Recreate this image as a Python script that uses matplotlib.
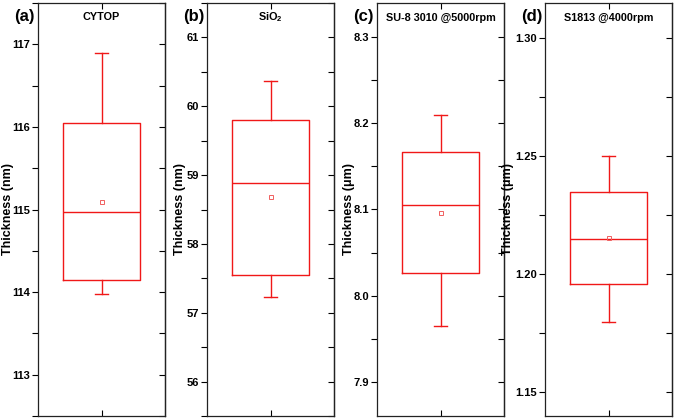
import matplotlib
matplotlib.use("Agg")
import matplotlib.pyplot as plt
from matplotlib.ticker import MultipleLocator, FormatStrFormatter

plt.rcParams["font.family"] = ["Liberation Sans", "DejaVu Sans"]
plt.rcParams["font.weight"] = "bold"
plt.rcParams["mathtext.fontset"] = "custom"
plt.rcParams["mathtext.rm"] = "Liberation Sans:bold"
plt.rcParams["mathtext.bf"] = "Liberation Sans:bold"

# box statistics
panels = ["(a)", "(b)", "(c)", "(d)"]
titles = ["CYTOP", r"SiO$_\mathbf{2}$", "SU-8 3010 @5000rpm", "S1813 @4000rpm"]
units = ["nm", "nm", "\u03bcm", "\u03bcm"]
q1 = [114.145, 57.555, 8.026, 1.196]
med = [114.97, 58.88, 8.105, 1.215]
q3 = [116.05, 59.80, 8.167, 1.235]
whislo = [113.975, 57.23, 7.965, 1.180]
whishi = [116.90, 60.36, 8.21, 1.250]
means = [115.09, 58.675, 8.096, 1.2153]
ylims = [(112.5, 117.5), (55.5, 61.5), (7.86, 8.34), (1.14, 1.315)]
major_step = [1, 1, 0.1, 0.05]
tick_fmt = ["%d", "%d", "%.1f", "%.2f"]

W, H = 675, 419
lefts = [38, 207, 377, 545]
label_x = [8, 180, 349, 508]  # centre of the y label, px
width = 127
bottom, top = 3, 416

fig = plt.figure(figsize=(6.75, 4.19), dpi=100)
red = "#f01818"

for i in range(4):
    ax = fig.add_axes([lefts[i] / W, 1 - top / H, width / W, (top - bottom) / H])
    stats = [{"med": med[i], "q1": q1[i], "q3": q3[i], "whislo": whislo[i],
              "whishi": whishi[i], "mean": means[i], "fliers": []}]
    ax.bxp(stats, positions=[1], widths=0.6, capwidths=0.1, showmeans=True,
           boxprops=dict(color=red, lw=1.0), medianprops=dict(color=red, lw=1.0),
           whiskerprops=dict(color=red, lw=1.0), capprops=dict(color=red, lw=1.0),
           meanprops=dict(marker="s", markersize=3, markerfacecolor="none",
                          markeredgecolor="#f06060", markeredgewidth=0.7))
    ax.set_xlim(0.5, 1.5)
    ax.set_ylim(*ylims[i])
    ax.set_xticks([1])
    ax.set_xticklabels([])
    ax.tick_params(axis="x", direction="in", length=4, top=True, width=0.8)
    ax.yaxis.set_major_locator(MultipleLocator(major_step[i]))
    ax.yaxis.set_minor_locator(MultipleLocator(major_step[i] / 2))
    ax.yaxis.set_major_formatter(FormatStrFormatter(tick_fmt[i]))
    ax.tick_params(axis="y", which="both", direction="out", length=4, width=0.8,
                   labelsize=8, pad=1.5)
    for lab in ax.get_yticklabels():
        lab.set_fontweight("bold")
    # mirrored right axis with inward ticks
    sec = ax.secondary_yaxis("right")
    sec.yaxis.set_major_locator(MultipleLocator(major_step[i]))
    sec.yaxis.set_minor_locator(MultipleLocator(major_step[i] / 2))
    sec.tick_params(axis="y", which="both", direction="in", length=4, width=0.8,
                    labelright=False)
    for s in list(ax.spines.values()) + [sec.spines["right"]]:
        s.set_linewidth(0.9)
        s.set_color("#222222")
    ax.set_ylabel(f"Thickness ({units[i]})", fontsize=9, fontweight="bold")
    ax.yaxis.set_label_coords((label_x[i] - lefts[i]) / width, 0.5)
    ax.yaxis.label.set_va("center")
    ax.text(0.5, 0.965, titles[i], transform=ax.transAxes, ha="center", va="center",
            fontsize=7.8, fontweight="bold")
    fig.text((lefts[i] - 3) / W, 1 - 16 / H, panels[i], ha="right", va="center",
             fontsize=12, fontweight="bold")

fig.savefig("out.png", dpi=100)
